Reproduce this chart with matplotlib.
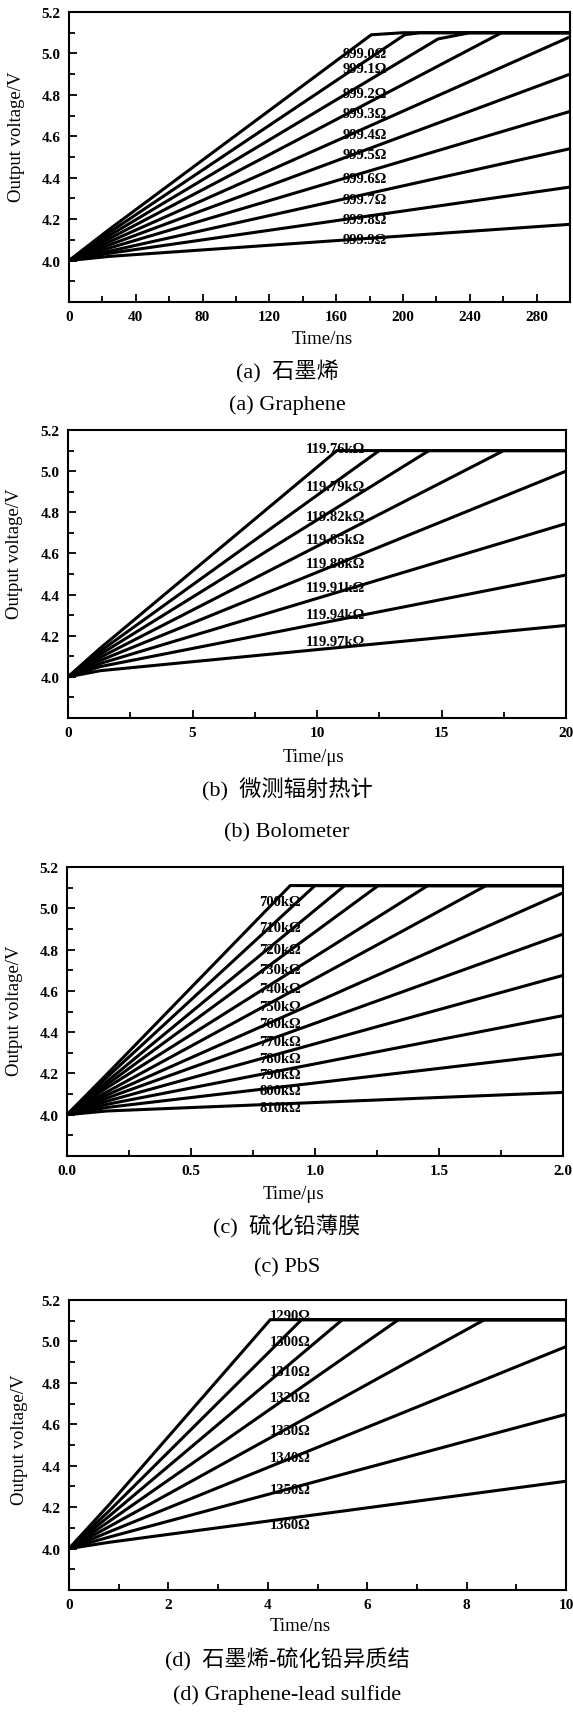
import matplotlib
matplotlib.use("Agg")
import matplotlib.pyplot as plt
from matplotlib.ticker import MultipleLocator, FixedLocator, FormatStrFormatter

# serif text, CJK falls back to Noto
plt.rcParams['font.family'] = ['Liberation Serif', 'Noto Sans CJK SC']

W, H = 573, 1715

# ---- (a) graphene, time in ns ----
a_labels = ['999.0Ω', '999.1Ω', '999.2Ω', '999.3Ω', '999.4Ω',
            '999.5Ω', '999.6Ω', '999.7Ω', '999.8Ω', '999.9Ω']
a_label_y = [5.0, 4.925, 4.808, 4.712, 4.611, 4.512, 4.395, 4.293, 4.197, 4.104]
a_t = [[0, 24, 181, 200, 300],
       [0, 24, 201, 210, 300],
       [0, 24, 221, 240, 300],
       [0, 24, 259, 300],
       [0, 24, 300],
       [0, 24, 300],
       [0, 24, 300],
       [0, 24, 300],
       [0, 24, 300],
       [0, 24, 300]]
a_v = [[4.0, 4.15, 5.09, 5.10, 5.10],
       [4.0, 4.135, 5.09, 5.10, 5.10],
       [4.0, 4.12, 5.07, 5.10, 5.10],
       [4.0, 4.105, 5.10, 5.10],
       [4.0, 4.09, 5.08],
       [4.0, 4.075, 4.90],
       [4.0, 4.06, 4.72],
       [4.0, 4.045, 4.54],
       [4.0, 4.035, 4.355],
       [4.0, 4.02, 4.175]]

# ---- (b) bolometer, time in us ----
b_labels = ['119.76kΩ', '119.79kΩ', '119.82kΩ', '119.85kΩ',
            '119.88kΩ', '119.91kΩ', '119.94kΩ', '119.97kΩ']
b_label_y = [5.11, 4.923, 4.778, 4.668, 4.549, 4.432, 4.303, 4.174]
b_t = [[0, 1.3, 10.8, 20],
       [0, 1.3, 12.5, 20],
       [0, 1.3, 14.5, 20],
       [0, 1.3, 17.5, 20],
       [0, 1.3, 20],
       [0, 1.3, 20],
       [0, 1.3, 20],
       [0, 1.3, 20]]
b_v = [[4.0, 4.14, 5.10, 5.10],
       [4.0, 4.125, 5.10, 5.10],
       [4.0, 4.11, 5.10, 5.10],
       [4.0, 4.095, 5.10, 5.10],
       [4.0, 4.08, 5.0],
       [4.0, 4.065, 4.745],
       [4.0, 4.05, 4.495],
       [4.0, 4.03, 4.25]]

# ---- (c) PbS film, time in us ----
c_labels = ['700kΩ', '710kΩ', '720kΩ', '730kΩ', '740kΩ', '750kΩ',
            '760kΩ', '770kΩ', '780kΩ', '790kΩ', '800kΩ', '810kΩ']
c_label_y = [5.032, 4.905, 4.80, 4.702, 4.612, 4.525,
             4.441, 4.357, 4.274, 4.195, 4.116, 4.036]
c_t = [[0, 0.16, 0.90, 2.0],
       [0, 0.16, 1.00, 2.0],
       [0, 0.16, 1.12, 2.0],
       [0, 0.16, 1.255, 2.0],
       [0, 0.16, 1.455, 2.0],
       [0, 0.16, 1.69, 2.0],
       [0, 0.16, 2.0],
       [0, 0.16, 2.0],
       [0, 0.16, 2.0],
       [0, 0.16, 2.0],
       [0, 0.16, 2.0],
       [0, 0.16, 2.0]]
c_v = [[4.0, 4.195, 5.11, 5.11],
       [4.0, 4.18, 5.11, 5.11],
       [4.0, 4.16, 5.11, 5.11],
       [4.0, 4.145, 5.11, 5.11],
       [4.0, 4.13, 5.11, 5.11],
       [4.0, 4.11, 5.11, 5.11],
       [4.0, 4.095, 5.075],
       [4.0, 4.08, 4.875],
       [4.0, 4.065, 4.675],
       [4.0, 4.05, 4.48],
       [4.0, 4.035, 4.295],
       [4.0, 4.018, 4.108]]

# ---- (d) graphene-PbS heterojunction, time in ns ----
d_labels = ['1290Ω', '1300Ω', '1310Ω', '1320Ω',
            '1330Ω', '1340Ω', '1350Ω', '1360Ω']
d_label_y = [5.125, 5.0, 4.856, 4.728, 4.568, 4.44, 4.283, 4.117]
d_t = [[0, 0.8, 4.05, 10],
       [0, 0.8, 4.68, 10],
       [0, 0.8, 5.5, 10],
       [0, 0.8, 6.63, 10],
       [0, 0.8, 8.36, 10],
       [0, 0.8, 10],
       [0, 0.8, 10],
       [0, 0.8, 10]]
d_v = [[4.0, 4.21, 5.105, 5.105],
       [4.0, 4.18, 5.105, 5.105],
       [4.0, 4.155, 5.105, 5.105],
       [4.0, 4.13, 5.105, 5.105],
       [4.0, 4.105, 5.105, 5.105],
       [4.0, 4.08, 4.975],
       [4.0, 4.055, 4.648],
       [4.0, 4.03, 4.325]]

y_ticks = [4.0, 4.2, 4.4, 4.6, 4.8, 5.0, 5.2]

fig = plt.figure(figsize=(W / 100, H / 100), dpi=100)


def px_text(x, y, s, **kw):
    # place text by pixel position of the figure (from top left)
    fig.text(x / W, 1 - y / H, s, ha='center', va='center', **kw)


def draw_panel(box, ts, vs, labels, label_x, label_y, xmax, xmajor, xminor, xfmt):
    left, top, right, bottom = box
    ax = fig.add_axes([left / W, 1 - bottom / H, (right - left) / W, (bottom - top) / H])
    for t, v in zip(ts, vs):
        ax.plot(t, v, color='black', lw=2.2, solid_joinstyle='round',
                solid_capstyle='round', zorder=3)
    for lab, y in zip(labels, label_y):
        ax.text(label_x, y, lab, fontsize=10.5, fontweight='bold',
                ha='left', va='center', zorder=2)
    ax.set_xlim(0, xmax)
    ax.set_ylim(3.8, 5.2)
    ax.xaxis.set_major_locator(MultipleLocator(xmajor))
    ax.xaxis.set_minor_locator(MultipleLocator(xminor))
    ax.xaxis.set_major_formatter(FormatStrFormatter(xfmt))
    ax.yaxis.set_major_locator(FixedLocator(y_ticks))
    ax.yaxis.set_minor_locator(MultipleLocator(0.1))
    ax.yaxis.set_major_formatter(FormatStrFormatter('%.1f'))
    ax.tick_params(which='both', direction='in', top=False, right=False, width=1.3)
    ax.tick_params(which='major', length=6, pad=6)
    ax.tick_params(which='minor', length=4)
    for lab in ax.get_xticklabels() + ax.get_yticklabels():
        lab.set_fontweight('bold')
        lab.set_fontsize(11)
    for sp in ax.spines.values():
        sp.set_linewidth(1.5)
    return ax


draw_panel((69, 13, 570, 303), a_t, a_v, a_labels, 164, a_label_y, 300, 40, 20, '%d')
draw_panel((68, 431, 566, 719), b_t, b_v, b_labels, 9.55, b_label_y, 20, 5, 2.5, '%d')
draw_panel((67, 868, 563, 1157), c_t, c_v, c_labels, 0.775, c_label_y, 2.0, 0.5, 0.25, '%.1f')
draw_panel((69, 1301, 566, 1591), d_t, d_v, d_labels, 4.03, d_label_y, 10, 2, 1, '%d')

# axis titles
for x, y in [(17, 137), (15, 554), (15, 1011), (20, 1440)]:
    px_text(x, y, 'Output voltage/V', fontsize=13.5, rotation=90)
px_text(322, 340, 'Time/ns', fontsize=13.5)
px_text(313, 758, 'Time/μs', fontsize=13.5)
px_text(293, 1195, 'Time/μs', fontsize=13.5)
px_text(300, 1627, 'Time/ns', fontsize=13.5)

# captions
px_text(287, 372, '(a)  石墨烯', fontsize=16)
px_text(287, 405, '(a) Graphene', fontsize=16)
px_text(287, 790, '(b)  微测辐射热计', fontsize=16)
px_text(287, 833, '(b) Bolometer', fontsize=16)
px_text(287, 1227, '(c)  硫化铅薄膜', fontsize=16)
px_text(287, 1268, '(c) PbS', fontsize=16)
px_text(287, 1660, '(d)  石墨烯-硫化铅异质结', fontsize=16)
px_text(287, 1695, '(d) Graphene-lead sulfide', fontsize=16)

fig.savefig('out.png', dpi=100)
